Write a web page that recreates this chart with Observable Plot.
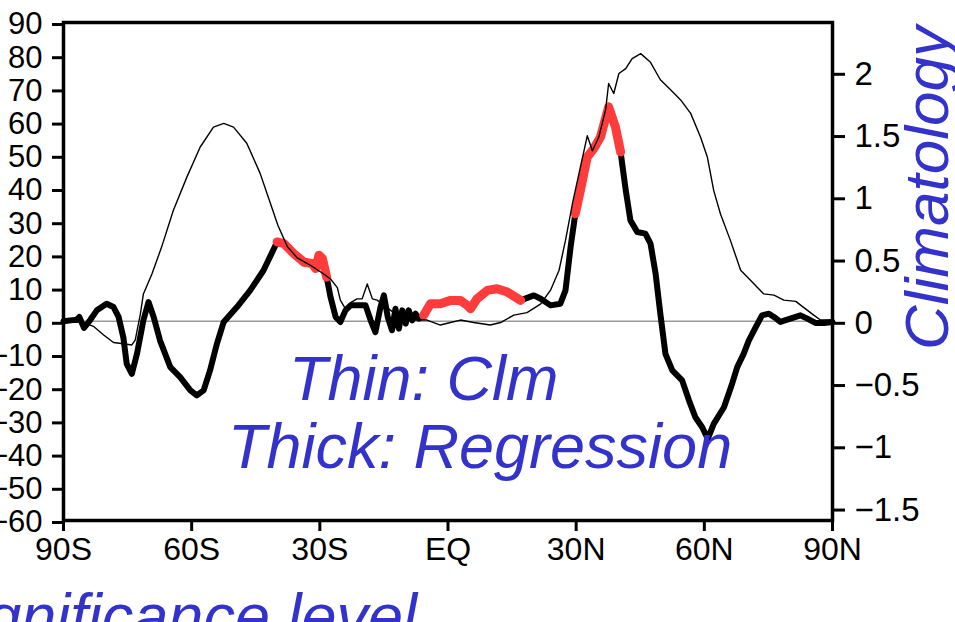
<!DOCTYPE html>
<html><head><meta charset="utf-8">
<script src="https://cdn.jsdelivr.net/npm/d3@7"></script>
<script src="https://cdn.jsdelivr.net/npm/@observablehq/plot@0.6"></script>
<style>
body{margin:0;background:#fff;overflow:hidden}
#chart{position:relative;width:955px;height:622px}
</style>
</head><body><div id="chart"></div>
<script>
// Regression (thick line), left axis units
const regLat = [-90,-86.9,-86.3,-85.2,-83.8,-82.2,-79.9,-78.3,-77.1,-76,-75.2,-74,-72.8,-71.3,-70.1,-68.9,-67.4,-65,-62.7,-60.3,-58.8,-57.2,-55.7,-54.1,-52.5,-49.4,-46.3,-43.2,-40,-38.4,-36.1,-33.7,-31.8,-31,-30.2,-29.4,-28.4,-27.5,-26.3,-25.2,-24,-22.8,-20.5,-19.3,-18.1,-17,-15.8,-15,-14.1,-13.1,-12.3,-11.5,-10.7,-9.9,-9.2,-8.4,-7.6,-6.8,-5.7,-4.1,-1.8,0.6,2.9,4.5,5.3,6.8,9.2,11.5,13.9,17,20.1,21.7,24,26.3,27.5,28.7,29.8,31,32.6,34.1,35.7,37.6,39.2,40.4,41.6,42.7,44.3,46.2,47.4,48.6,49.7,50.9,52.5,54.8,56.4,57.9,59.5,60.8,62.2,64.6,66.5,67.7,69.2,70.4,72,73.5,75.1,76.3,77.8,79.4,82.5,84.1,86,88,90];
const regVal = [0,0.5,1.3,-2,0.3,3.3,5.3,4.3,1.3,-4.8,-12.8,-15.8,-9.8,0.3,5.8,1.3,-5.8,-13.8,-16.8,-20.8,-22.3,-20.8,-14.8,-6.8,-0.2,4.3,9.3,15.3,23.9,23.4,20.4,17.8,17.4,15.9,19.9,18.9,13.3,7.3,1.3,-0.2,3.3,4.8,4.8,4.8,0.3,-3.3,4.3,7.8,1.3,-2.7,3.8,-2.2,3.3,-0.7,3.3,0.3,2.3,0.8,1.8,5.3,5.3,6.3,6.3,4.8,3.8,6.8,9.3,9.8,8.8,6.3,7.8,6.8,4.8,5.3,9.3,22.4,32.4,39.5,49.5,52,55.5,64.6,58.5,51,39.5,30.4,26.9,26.4,23.4,14.3,2.3,-9.8,-14.8,-17.8,-23.8,-28.9,-31.9,-35.4,-30.9,-25.9,-18.8,-13.8,-9.8,-5.8,-1.8,1.8,2.3,1.3,-0.2,0.5,1.8,0.8,-0.5,-0.5,-0.2];
// Latitude bands where the regression is significant (red)
const sigRanges = [[-40,-28.4],[-5.7,17],[29.8,40.4]];

// Climatology (thin line), right axis units
const climLat = [-90,-85.3,-83,-80.6,-78.3,-76,-74,-73.2,-72,-71.3,-69.3,-67,-64.3,-61.1,-58,-54.9,-52.5,-50.2,-47.1,-44,-42.5,-39.8,-37.6,-35.3,-32.2,-29.1,-27.5,-25.9,-25.2,-24,-22.8,-21.3,-20.1,-18.9,-17.7,-16.6,-15.4,-13.5,-11.1,-8,-4.9,-1.8,0.6,2.9,6,9.9,12.3,15.4,18.5,21.7,24,26,27.5,29.1,31,32.6,33.8,35.3,36.9,37.6,38.8,40,41.6,43.1,45.1,47.4,49.7,52.1,54.4,56.8,59.1,60.7,62.2,63.8,66.1,68.5,70.8,73.9,76.3,78.6,81.4,83.3,85.6,87.2,90];
const climVal = [0,-0.01,-0.04,-0.11,-0.17,-0.18,-0.19,-0.15,0.06,0.22,0.38,0.6,0.89,1.16,1.4,1.56,1.59,1.56,1.43,1.19,1.04,0.77,0.6,0.51,0.45,0.38,0.34,0.27,0.17,0.1,0.15,0.18,0.18,0.3,0.18,0.17,0.14,0.09,0.03,0.01,0.01,-0.03,-0.01,0.01,-0.01,-0.03,-0.01,0.05,0.07,0.14,0.25,0.41,0.65,0.94,1.24,1.49,1.37,1.48,1.7,1.91,1.83,1.99,2.03,2.11,2.15,2.08,1.94,1.86,1.78,1.67,1.48,1.32,1.05,0.86,0.65,0.41,0.33,0.22,0.21,0.17,0.16,0.11,0.05,0.01,0.01];

// Axes
const leftDomain = [-60, 90];
const rightDomain = [-1.6, 2.4];
const leftTicks = d3.range(-60, 91, 10);
const rightTicks = [-1.5, -1, -0.5, 0, 0.5, 1, 1.5, 2];
const xTicks = [-90, -60, -30, 0, 30, 60, 90];

const K = (leftDomain[1] - leftDomain[0]) / (rightDomain[1] - rightDomain[0]);
const toLeft = c => (c - rightDomain[0]) * K + leftDomain[0];
const fromLeft = v => (v - leftDomain[0]) / K + rightDomain[0];

const reg = regLat.map((lat, i) => ({lat, v: regVal[i]}));
const clim = climLat.map((lat, i) => ({lat, v: toLeft(climVal[i])}));
const sig = sigRanges.flatMap(([a, b], s) => reg.filter(d => d.lat >= a - 1e-9 && d.lat <= b + 1e-9).map(d => ({...d, seg: s})));

const latFmt = d => d === 0 ? "EQ" : d < 0 ? `${-d}S` : `${d}N`;
const numFmt = v => { const r = Math.round(v * 10) / 10; return (r < 0 ? "\u2212" : "") + Math.abs(r); };

const chart = Plot.plot({
  width: 955, height: 622,
  marginLeft: 63, marginRight: 123, marginTop: 22, marginBottom: 102,
  style: {fontFamily: '"Liberation Sans", Arial, sans-serif', fontSize: "32px", color: "black", background: "white"},
  x: {domain: [-90, 90]},
  y: {domain: leftDomain},
  marks: [
    Plot.ruleY([0], {stroke: "#999", strokeWidth: 1.6}),
    Plot.line(reg, {x: "lat", y: "v", stroke: "black", strokeWidth: 6, strokeLinejoin: "round", strokeLinecap: "round"}),
    Plot.line(sig, {x: "lat", y: "v", z: "seg", stroke: "#ff3c3c", strokeWidth: 9, strokeLinejoin: "round", strokeLinecap: "round"}),
    Plot.line(clim, {x: "lat", y: "v", stroke: "black", strokeWidth: 1.4}),
    Plot.axisY({anchor: "left", ticks: leftTicks, tickFormat: numFmt, tickSize: 11, tickPadding: 10, strokeWidth: 3, label: null, dy: 2, fontSize: 31}),
    Plot.axisY({anchor: "right", ticks: rightTicks.map(toLeft), tickFormat: d => numFmt(fromLeft(d)), tickSize: 12, tickPadding: 10, strokeWidth: 3, label: null, dy: 2, fontSize: 33}),
    Plot.axisX({ticks: xTicks, tickFormat: latFmt, tickSize: 11, tickPadding: 6, strokeWidth: 3, label: null, fontSize: 32}),
    Plot.frame({stroke: "black", strokeWidth: 3.5})
  ]
});
document.getElementById("chart").appendChild(chart);

// Annotations
const svg = d3.select(chart);
const blue = "#3333cc";
const ann = svg.append("g").attr("fill", blue).attr("font-style", "italic").attr("text-anchor", "start")
  .attr("font-family", '"Liberation Sans", Arial, sans-serif').attr("font-size", 63);
ann.append("text").attr("x", 289).attr("y", 400).text("Thin: Clm");
ann.append("text").attr("x", 228).attr("y", 468).text("Thick: Regression");
ann.append("text").attr("transform", "translate(948,350) rotate(-90)").attr("font-size", 62).text("Climatology");
ann.append("text").attr("x", 417).attr("y", 638).attr("text-anchor", "end").text("Significance level");
</script>
</body></html>
